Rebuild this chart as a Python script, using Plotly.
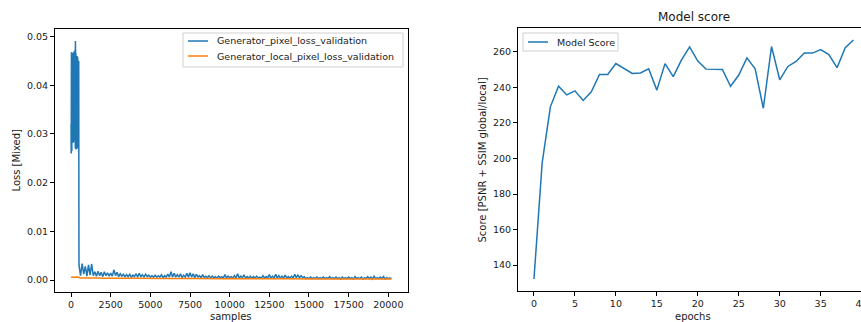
import plotly.graph_objects as go

# ---------------- data ----------------
# Generator pixel loss, warm-up phase: one value every 5 samples (0..485)
pixel_loss_warmup = [
    0.0320, 0.0410, 0.0260, 0.0445, 0.0350, 0.0468, 0.0295, 0.0400, 0.0330, 0.0465,
    0.0265, 0.0430, 0.0310, 0.0465, 0.0360, 0.0440, 0.0285, 0.0420, 0.0300, 0.0462,
    0.0345, 0.0425, 0.0290, 0.0467, 0.0330, 0.0450, 0.0305, 0.0415, 0.0282, 0.0455,
    0.0340, 0.0438, 0.0298, 0.0460, 0.0287, 0.0420, 0.0355, 0.0447, 0.0302, 0.0470,
    0.0290, 0.0435, 0.0325, 0.0465, 0.0295, 0.0410, 0.0285, 0.0452, 0.0340, 0.0472,
    0.0300, 0.0458, 0.0292, 0.0425, 0.0270, 0.0491, 0.0335, 0.0462, 0.0288, 0.0440,
    0.0275, 0.0466, 0.0350, 0.0418, 0.0268, 0.0455, 0.0310, 0.0448, 0.0290, 0.0430,
    0.0300, 0.0452, 0.0345, 0.0440, 0.0320, 0.0445, 0.0280, 0.0460, 0.0330, 0.0435,
    0.0295, 0.0450, 0.0270, 0.0458, 0.0340, 0.0420, 0.0300, 0.0447, 0.0290, 0.0440,
    0.0310, 0.0436, 0.0320, 0.0445, 0.0300, 0.0440, 0.0330, 0.0450,
]
WARMUP_STEP = 5

# Generator pixel loss after warm-up: one value every 100 samples (500..20200)
pixel_loss_main = [
    0.0031, 0.0009, 0.0034, 0.0012, 0.0028, 0.0008, 0.0031, 0.0010, 0.0033, 0.0009,
    0.0017, 0.0008, 0.0018, 0.0009, 0.0016, 0.0007, 0.0017, 0.0009, 0.0015, 0.0008,
    0.0014, 0.0008, 0.0021, 0.0009, 0.0016, 0.0007, 0.0013, 0.0008, 0.0012, 0.0007,
    0.0011, 0.0007, 0.0012, 0.0006, 0.0010, 0.0007, 0.0013, 0.0006, 0.0014, 0.0007,
    0.0011, 0.0006, 0.0012, 0.0007, 0.0010, 0.0006, 0.0009, 0.0006, 0.0010, 0.0006,
    0.0009, 0.0006, 0.0011, 0.0005, 0.0009, 0.0006, 0.0012, 0.0006, 0.0017, 0.0006,
    0.0014, 0.0006, 0.0011, 0.0006, 0.0013, 0.0005, 0.0010, 0.0006, 0.0014, 0.0006,
    0.0015, 0.0006, 0.0013, 0.0005, 0.0012, 0.0006, 0.0009, 0.0005, 0.0011, 0.0005,
    0.0008, 0.0005, 0.0009, 0.0004, 0.0008, 0.0005, 0.0007, 0.0004, 0.0008, 0.0005,
    0.0007, 0.0004, 0.0011, 0.0004, 0.0008, 0.0005, 0.0007, 0.0004, 0.0009, 0.0004,
    0.0013, 0.0004, 0.0008, 0.0005, 0.0010, 0.0004, 0.0007, 0.0004, 0.0008, 0.0004,
    0.0007, 0.0004, 0.0008, 0.0004, 0.0006, 0.0004, 0.0009, 0.0004, 0.0007, 0.0004,
    0.0011, 0.0004, 0.0008, 0.0004, 0.0012, 0.0004, 0.0009, 0.0004, 0.0008, 0.0004,
    0.0010, 0.0004, 0.0007, 0.0004, 0.0008, 0.0004, 0.0012, 0.0005, 0.0010, 0.0005,
    0.0009, 0.0005, 0.0007, 0.0003, 0.0005, 0.0003, 0.0006, 0.0003, 0.0005, 0.0003,
    0.0006, 0.0003, 0.0005, 0.0003, 0.0006, 0.0003, 0.0005, 0.0003, 0.0007, 0.0003,
    0.0005, 0.0003, 0.0006, 0.0003, 0.0005, 0.0002, 0.0006, 0.0003, 0.0005, 0.0003,
    0.0006, 0.0003, 0.0005, 0.0002, 0.0007, 0.0003, 0.0005, 0.0003, 0.0006, 0.0002,
    0.0005, 0.0003, 0.0007, 0.0003, 0.0006, 0.0002, 0.0008, 0.0003, 0.0005, 0.0003,
    0.0006, 0.0003, 0.0007, 0.0002, 0.0005, 0.0003, 0.0004, 0.0003,
]
MAIN_START = 500
MAIN_STEP = 100

# Generator local pixel loss: one value every 200 samples (0..20200)
local_pixel_loss = [
    0.00058, 0.00062, 0.00060, 0.00041, 0.00043, 0.00039, 0.00042, 0.00040, 0.00038, 0.00041,
    0.00039, 0.00037, 0.00040, 0.00038, 0.00036, 0.00039, 0.00037, 0.00035, 0.00038, 0.00036,
    0.00037, 0.00035, 0.00034, 0.00036, 0.00033, 0.00035, 0.00034, 0.00032, 0.00035, 0.00033,
    0.00034, 0.00032, 0.00035, 0.00033, 0.00031, 0.00034, 0.00032, 0.00033, 0.00031, 0.00032,
    0.00030, 0.00032, 0.00031, 0.00029, 0.00031, 0.00030, 0.00032, 0.00029, 0.00030, 0.00028,
    0.00030, 0.00029, 0.00031, 0.00028, 0.00030, 0.00029, 0.00027, 0.00029, 0.00028, 0.00030,
    0.00028, 0.00027, 0.00029, 0.00028, 0.00026, 0.00028, 0.00027, 0.00029, 0.00027, 0.00028,
    0.00026, 0.00028, 0.00027, 0.00025, 0.00023, 0.00025, 0.00024, 0.00022, 0.00024, 0.00023,
    0.00025, 0.00023, 0.00022, 0.00024, 0.00022, 0.00023, 0.00021, 0.00023, 0.00022, 0.00024,
    0.00022, 0.00021, 0.00023, 0.00022, 0.00020, 0.00022, 0.00021, 0.00023, 0.00021, 0.00022,
    0.00020, 0.00022,
]
LOCAL_STEP = 200

# Model score per epoch
epochs = list(range(40))
model_score = [
    132.2, 197.5, 229.0, 240.6, 235.7, 238.0, 232.6, 237.5, 247.2, 247.2,
    253.3, 250.7, 247.8, 248.0, 250.4, 238.4, 253.3, 246.0, 255.2, 262.7,
    254.7, 250.2, 250.2, 250.0, 240.6, 246.9, 256.5, 250.4, 228.2, 262.9,
    244.2, 251.7, 254.5, 259.3, 259.2, 261.2, 258.4, 251.0, 262.3, 266.6,
]

loss_xticks = [0, 2500, 5000, 7500, 10000, 12500, 15000, 17500, 20000]
loss_yticks = [0.00, 0.01, 0.02, 0.03, 0.04, 0.05]
score_xticks = [0, 5, 10, 15, 20, 25, 30, 35, 40]
score_yticks = [140, 160, 180, 200, 220, 240, 260]

# ---------------- figure geometry (pixels) ----------------
W, H = 870, 322
BLUE, ORANGE = "#1f77b4", "#ff7f0e"
FONT = "DejaVu Sans"
TXT = "#1a1a1a"


def fx(px):
    return px / W


def fy(py):
    return 1 - py / H


pixel_samples = [i * WARMUP_STEP for i in range(len(pixel_loss_warmup))] + \
                [MAIN_START + i * MAIN_STEP for i in range(len(pixel_loss_main))]
pixel_values = pixel_loss_warmup + pixel_loss_main
local_samples = [i * LOCAL_STEP for i in range(len(local_pixel_loss))]

fig = go.Figure()
fig.add_trace(go.Scatter(x=pixel_samples, y=pixel_values, mode="lines",
                         line=dict(color=BLUE, width=1.5),
                         name="Generator_pixel_loss_validation",
                         xaxis="x", yaxis="y"))
fig.add_trace(go.Scatter(x=local_samples, y=local_pixel_loss, mode="lines",
                         line=dict(color=ORANGE, width=1.5),
                         name="Generator_local_pixel_loss_validation",
                         xaxis="x", yaxis="y"))
fig.add_trace(go.Scatter(x=epochs, y=model_score, mode="lines",
                         line=dict(color=BLUE, width=1.5),
                         name="Model Score",
                         xaxis="x2", yaxis="y2"))


# axis limits with 5% padding around the data
def padded(lo, hi, frac=0.05):
    span = hi - lo
    return [lo - frac * span, hi + frac * span]


all_loss = pixel_values + local_pixel_loss
loss_xr = padded(0, max(pixel_samples[-1], local_samples[-1]) + 30)
loss_yr = padded(0.0, max(all_loss))
score_xr = padded(epochs[0], epochs[-1])
score_yr = padded(min(model_score), max(model_score))

axis_common = dict(showgrid=False, zeroline=False, showline=True, linecolor="black",
                   linewidth=1, mirror=True, ticks="outside", ticklen=4,
                   tickcolor="black", tickwidth=1,
                   tickfont=dict(family=FONT, size=9.5, color=TXT))

fig.update_layout(
    width=W, height=H,
    margin=dict(l=0, r=0, t=0, b=0),
    paper_bgcolor="white", plot_bgcolor="white",
    showlegend=False,
    xaxis=dict(domain=[fx(55), fx(408)], range=loss_xr, tickvals=loss_xticks,
               ticktext=[str(v) for v in loss_xticks], anchor="y", **axis_common),
    yaxis=dict(domain=[fy(292), fy(29)], range=loss_yr, tickvals=loss_yticks,
               ticktext=[f"{v:.2f}" for v in loss_yticks], anchor="x", **axis_common),
    xaxis2=dict(domain=[fx(518), fx(869.4)], range=score_xr, tickvals=score_xticks,
                ticktext=[str(v) for v in score_xticks], anchor="y2", **axis_common),
    yaxis2=dict(domain=[fy(291), fy(28)], range=score_yr, tickvals=score_yticks,
                ticktext=[str(v) for v in score_yticks], anchor="x2", **axis_common),
)

annotations = [
    dict(text="samples", x=fx(231), y=fy(316), size=10),
    dict(text="Loss [Mixed]", x=fx(15.5), y=fy(160), size=10, angle=-90),
    dict(text="epochs", x=fx(693), y=fy(316), size=10),
    dict(text="Score [PSNR + SSIM global/local]", x=fx(481.5), y=fy(160), size=10, angle=-90),
    dict(text="Model score", x=fx(693.5), y=fy(17), size=12),
]
for a in annotations:
    fig.add_annotation(text=a["text"], x=a["x"], y=a["y"], xref="paper", yref="paper",
                       showarrow=False, xanchor="center", yanchor="middle",
                       textangle=a.get("angle", 0),
                       font=dict(family=FONT, size=a["size"], color=TXT))


# legend boxes drawn as shapes + text
def legend_box(x0, y0, x1, y1, entries):
    fig.add_shape(type="rect", xref="paper", yref="paper",
                  x0=fx(x0), x1=fx(x1), y0=fy(y1), y1=fy(y0),
                  line=dict(color="#d0d0d0", width=1), fillcolor="rgba(255,255,255,0.8)",
                  layer="above")
    for (ly, color, label) in entries:
        fig.add_shape(type="line", xref="paper", yref="paper",
                      x0=fx(x0 + 5), x1=fx(x0 + 25), y0=fy(ly), y1=fy(ly),
                      line=dict(color=color, width=1.5), layer="above")
        fig.add_annotation(text=label, x=fx(x0 + 32), y=fy(ly), xref="paper", yref="paper",
                           showarrow=False, xanchor="left", yanchor="middle",
                           font=dict(family=FONT, size=9.5, color=TXT))


legend_box(183, 33, 403, 67, [(41, BLUE, "Generator_pixel_loss_validation"),
                              (56, ORANGE, "Generator_local_pixel_loss_validation")])
legend_box(523, 33, 618, 51, [(42, BLUE, "Model Score")])

fig.write_html("out.html",
               post_script="document.documentElement.style.overflow='hidden';"
                           "document.body.style.overflow='hidden';")
